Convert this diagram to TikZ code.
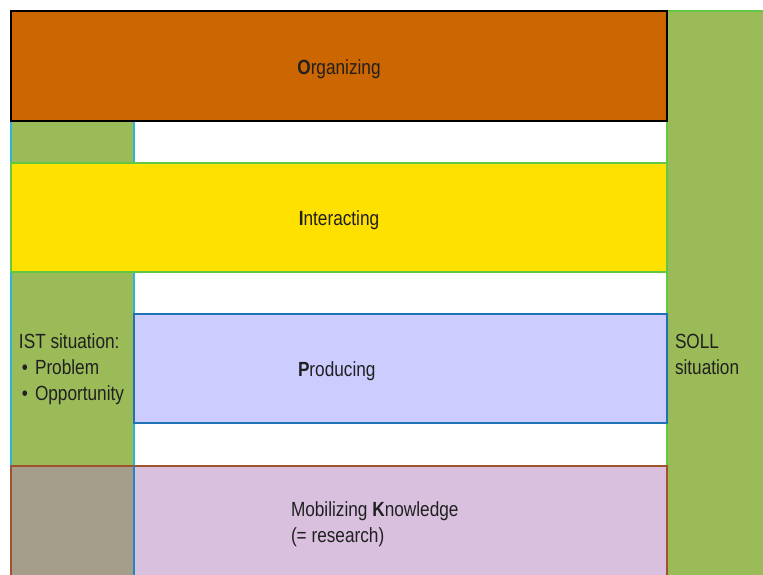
\documentclass[tikz,border=0pt]{standalone}
\usepackage{fontspec}
\setmainfont{Liberation Sans}[FakeStretch=0.84]
\definecolor{orangeF}{HTML}{CC6600}
\definecolor{greenF}{HTML}{9BBB59}
\definecolor{greenB}{HTML}{62C844}
\definecolor{cyanB}{HTML}{2DB4D8}
\definecolor{yellowF}{HTML}{FFE100}
\definecolor{lavF}{HTML}{CCCCFF}
\definecolor{blueB}{HTML}{1F72B6}
\definecolor{mauveF}{HTML}{D8C0DE}
\definecolor{brownB}{HTML}{A0522D}
\definecolor{grayF}{HTML}{A59E8A}
\definecolor{txt}{HTML}{202020}
\newcommand{\blt}{\hspace*{3pt}\textbullet\hspace{7pt}}
\begin{document}
\begin{tikzpicture}[x=1pt,y=1pt,
  panel/.style={rectangle, inner sep=0pt, outer sep=0pt, anchor=south west, line width=1.5pt},
  lbl/.style={inner sep=0pt, outer sep=0pt, align=left, text=txt, font=\fontsize{20.5}{26}\selectfont},
  clbl/.style={text=txt, font=\fontsize{20.5}{26}\selectfont}]
\useasboundingbox (0,0) rectangle (763,575);
\clip (0,0) rectangle (763,575);
\fill[white] (0,0) rectangle (763,575);
% SOLL column
\node[panel, fill=greenF, draw=greenB, minimum width=110pt, minimum height=572pt] (soll) at (667,-8) {};
% IST column
\node[panel, fill=greenF, draw=cyanB, minimum width=123pt, minimum height=345pt] (ist) at (11,109) {};
% Organizing
\node[panel, fill=orangeF, draw=black, line width=2pt, minimum width=656pt, minimum height=110pt] (org) at (11,454) {};
\node[clbl] (orgt) at ([yshift=-3pt]org.center) {\textbf{O}rganizing};
% Interacting
\node[panel, fill=yellowF, draw=greenB, minimum width=656pt, minimum height=109pt] (int) at (11,303) {};
\node[clbl] (intt) at ([yshift=-3pt]int.center) {\textbf{I}nteracting};
% Producing
\node[panel, fill=lavF, draw=blueB, minimum width=533pt, minimum height=109pt] (prod) at (134,152) {};
\node[lbl, anchor=west] (prodt) at (298,204) {\textbf{P}roducing};
% Mobilizing Knowledge
\node[panel, fill=mauveF, draw=brownB, minimum width=656pt, minimum height=120pt] (mob) at (11,-11) {};
\node[panel, fill=grayF, minimum width=123pt, minimum height=120pt] (mobl) at (11,-11) {};
\draw[brownB, line width=1.5pt] (mobl.south west) -- (mobl.north west) -- (mobl.north east);
\draw[blueB!70!cyanB, line width=1.2pt] (mobl.north east) -- (mobl.south east);
\node[lbl, anchor=west] (mobt) at (291,51) {Mobilizing \textbf{K}nowledge\\(= research)};
% texts in columns
\node[lbl, anchor=west] (istt) at (19,206) {IST situation:\\\blt Problem\\\blt Opportunity};
\node[lbl, anchor=west] (sollt) at (675,221) {SOLL\\situation};
\end{tikzpicture}
\end{document}
